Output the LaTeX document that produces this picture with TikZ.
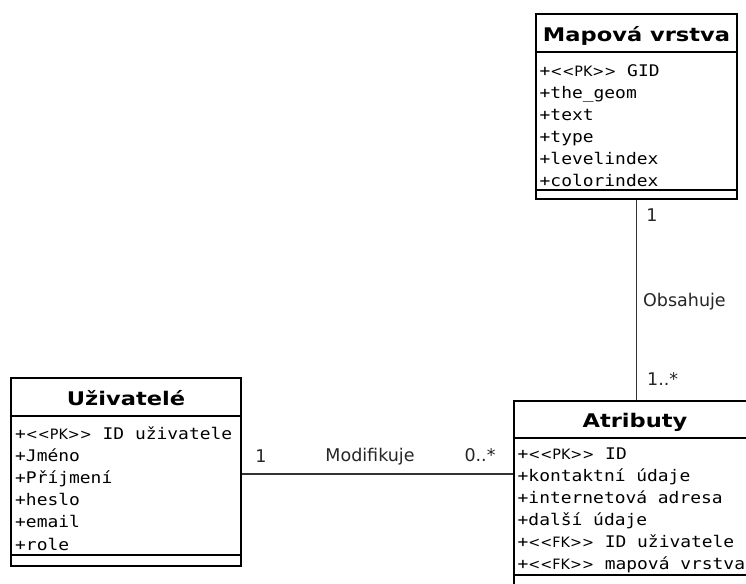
\documentclass[tikz,border=0pt]{standalone}
\usepackage{fontspec}
\setmainfont{DejaVu Sans}[Ligatures=TeXOff]
\newfontfamily\monof{DejaVu Sans Mono}[FakeStretch=1.12,Ligatures=TeXOff]
\newfontfamily\titlef{DejaVu Sans}[FakeStretch=1.2]
\newfontfamily\lblf{DejaVu Sans}[Ligatures=TeXOff]
\newcommand\stereo[1]{{\lblf\fontsize{14.3pt}{16pt}\selectfont<\kern0pt<#1>\kern0pt>}}
\tikzset{
  classbox/.style={draw, line width=2.9pt, inner sep=0pt, fill=white},
  sepl/.style={line width=2.7pt},
  ttl/.style={font=\titlef\bfseries\fontsize{18.8pt}{22pt}\selectfont, anchor=base, inner sep=0pt},
  attr/.style={font=\monof\fontsize{16pt}{18pt}\selectfont, anchor=base west, inner sep=0pt},
  lbl/.style={font=\lblf\fontsize{17.5pt}{20pt}\selectfont, inner sep=0pt, text=black!85},
  conn/.style={line width=1.5pt, draw=black!80}
}
\begin{document}
\begin{tikzpicture}[x=1pt,y=-1pt]
\useasboundingbox (0,0) rectangle (746,583);
\clip (0,0) rectangle (746,583);
\fill[white] (0,0) rectangle (746,583);

% class boxes
\node[classbox, minimum width=201pt, minimum height=185pt] (map) at (636.5,106.5) {};
\node[classbox, minimum width=230pt, minimum height=188pt] (uz) at (126,472) {};
\node[classbox, minimum width=246pt, minimum height=199pt] (atr) at (637,500.5) {};

% compartment separators
\draw[sepl] (map.west |- 0,52) -- (map.east |- 0,52);
\draw[sepl] (map.west |- 0,190) -- (map.east |- 0,190);
\draw[sepl] (uz.west |- 0,416) -- (uz.east |- 0,416);
\draw[sepl] (uz.west |- 0,555) -- (uz.east |- 0,555);
\draw[sepl] (atr.west |- 0,438) -- (atr.east |- 0,438);
\draw[sepl] (atr.west |- 0,575) -- (atr.east |- 0,575);

% titles
\node[ttl] (mapT) at (636.5,42) {Mapová vrstva};
\node[ttl] (uzT) at (126,405) {Uživatelé};
\node[ttl] (atrT) at (635,427) {Atributy};

% attributes
\node[attr] (map1) at (539.5,76.5) {+\stereo{PK} GID};
\node[attr] (map2) at (539.5,98.5) {+the\_geom};
\node[attr] (map3) at (539.5,120.5) {+text};
\node[attr] (map4) at (539.5,142.5) {+type};
\node[attr] (map5) at (539.5,164.5) {+levelindex};
\node[attr] (map6) at (539.5,186.5) {+colorindex};

\node[attr] (uz1) at (15,439) {+\stereo{PK} ID uživatele};
\node[attr] (uz2) at (15,461.2) {+Jméno};
\node[attr] (uz3) at (15,483.4) {+Příjmení};
\node[attr] (uz4) at (15,505.6) {+heslo};
\node[attr] (uz5) at (15,527.8) {+email};
\node[attr] (uz6) at (15,550) {+role};

\node[attr] (atr1) at (517.5,459) {+\stereo{PK} ID};
\node[attr] (atr2) at (517.5,481) {+kontaktní údaje};
\node[attr] (atr3) at (517.5,503) {+internetová adresa};
\node[attr] (atr4) at (517.5,525) {+další údaje};
\node[attr] (atr5) at (517.5,547) {+\stereo{FK} ID uživatele};
\node[attr] (atr6) at (517.5,569) {+\stereo{FK} mapová vrstva};

% connectors
\draw[conn] (uz.east |- 0,474) -- (atr.west |- 0,474);
\draw[conn] (map.south) -- (map.south |- atr.north);

% connector labels
\node[lbl, anchor=base] (m1) at (261,462) {1};
\node[lbl, anchor=base] (mname) at (370,461) {Modifikuje};
\node[lbl, anchor=base] (m2) at (480,461) {0..*};
\node[lbl, anchor=base] (o1) at (652,221) {1};
\node[lbl, anchor=base west] (oname) at (643,306) {Obsahuje};
\node[lbl, anchor=base west] (o2) at (647,385) {1..*};
\end{tikzpicture}
\end{document}
